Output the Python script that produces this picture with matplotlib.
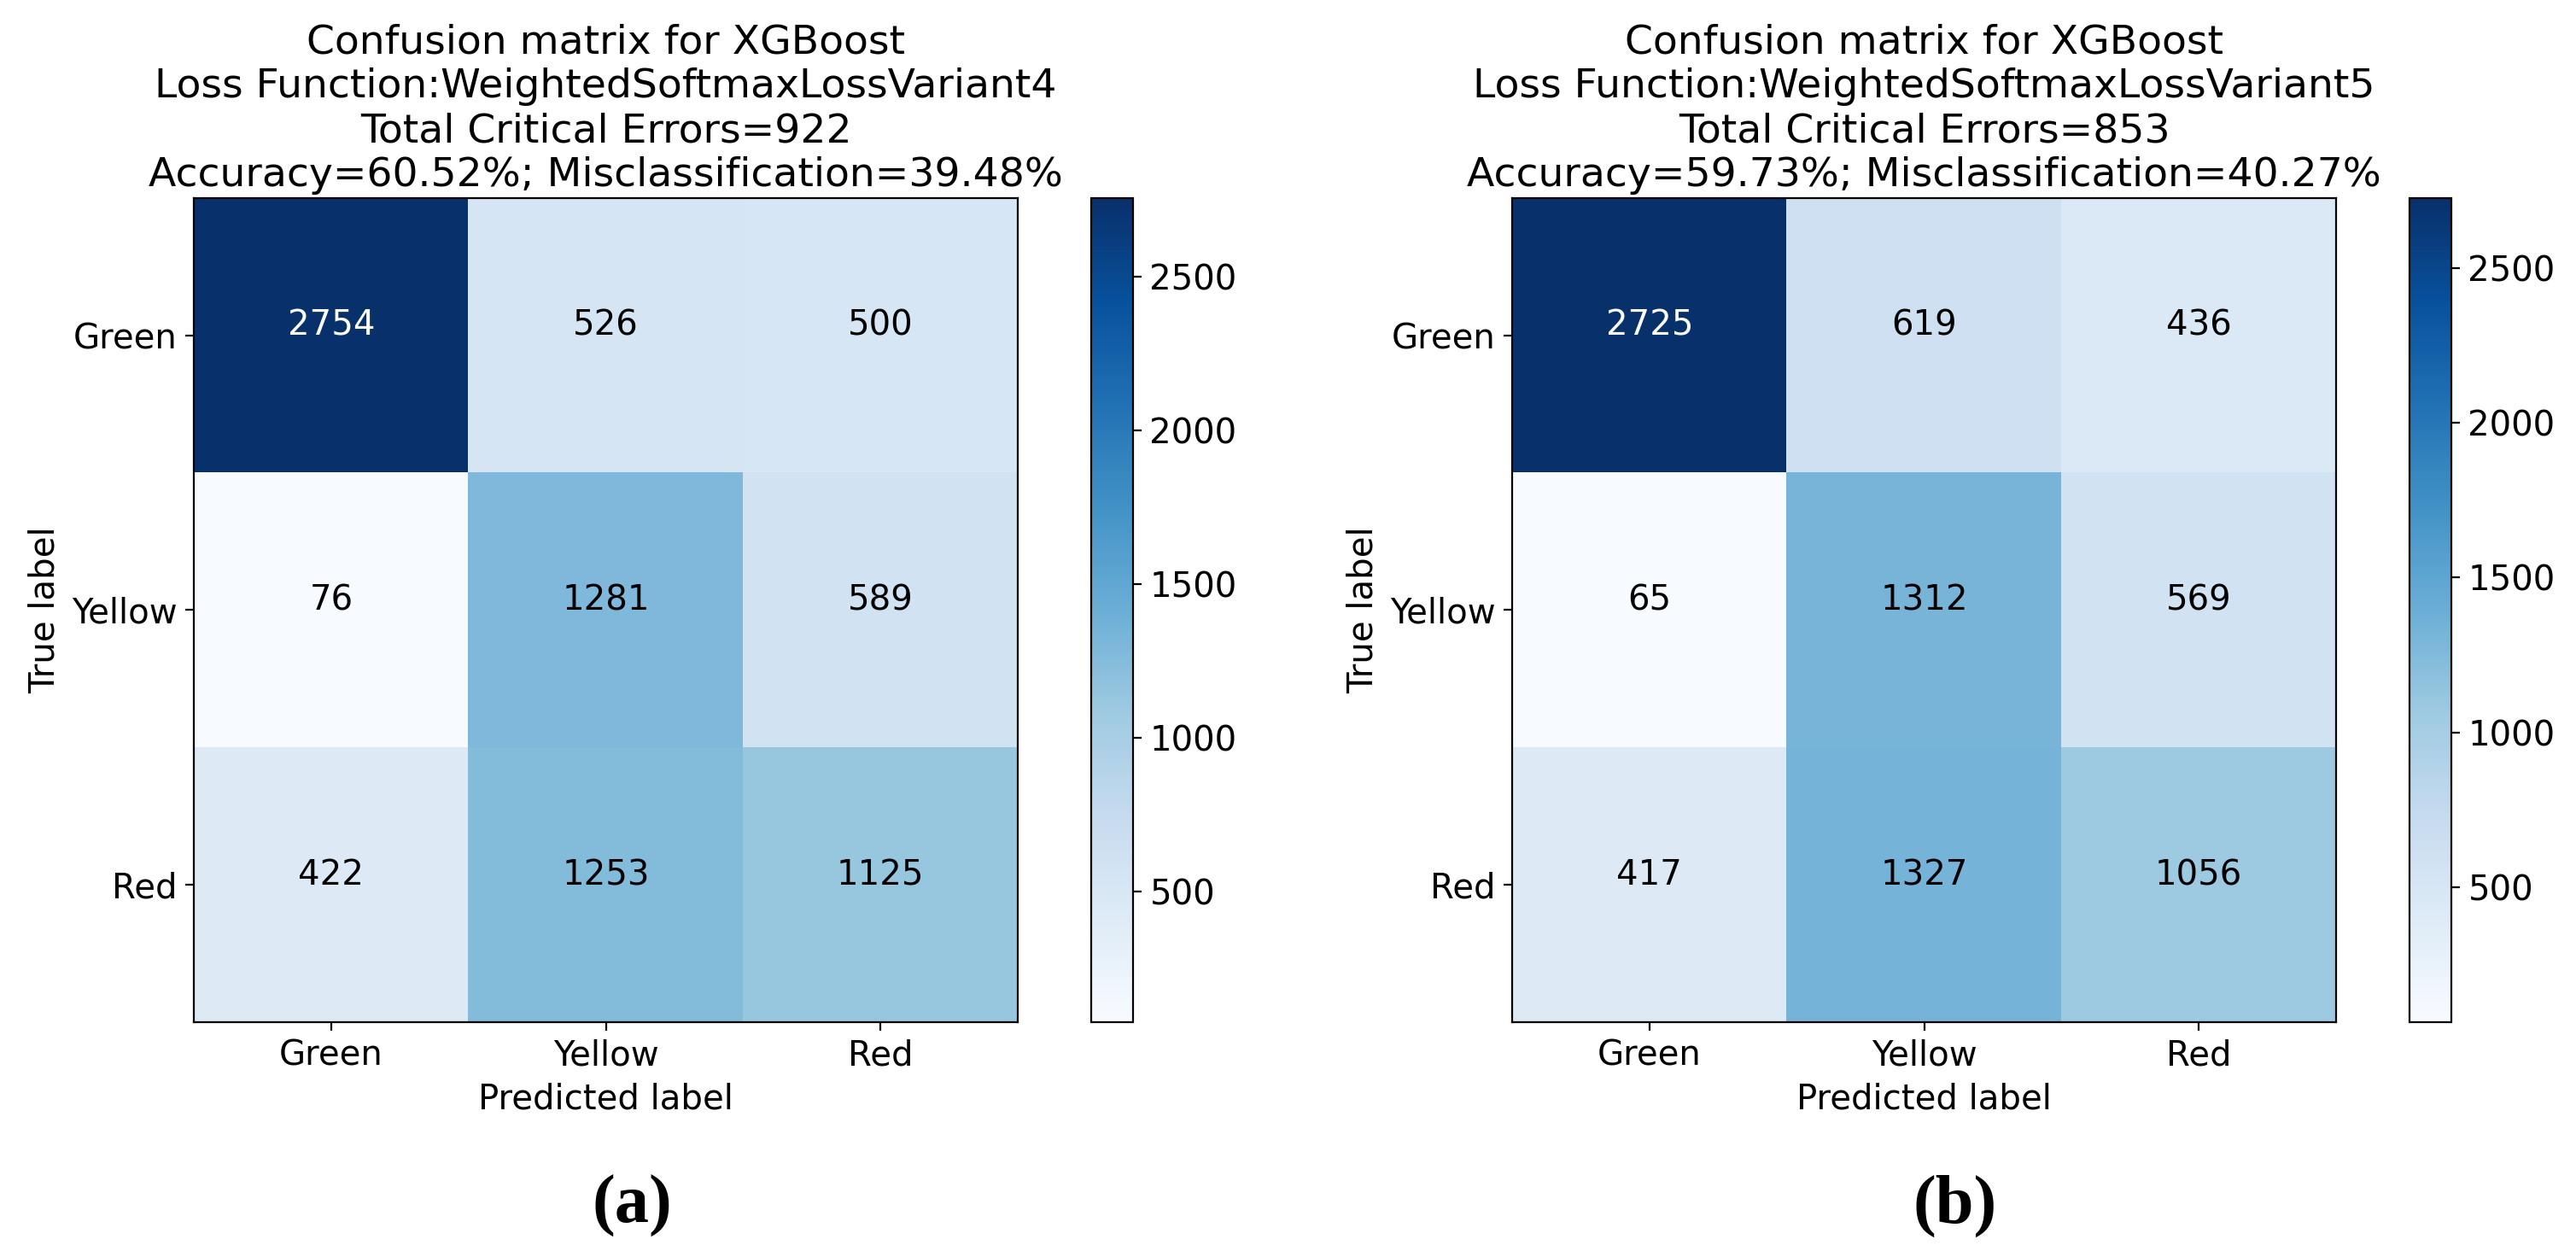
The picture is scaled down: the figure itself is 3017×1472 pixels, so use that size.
import matplotlib.pyplot as plt
import numpy as np

classes = ["Green", "Yellow", "Red"]

cm_variant4 = [[2754, 526, 500],
               [76, 1281, 589],
               [422, 1253, 1125]]
cm_variant5 = [[2725, 619, 436],
               [65, 1312, 569],
               [417, 1327, 1056]]

loss_names = ["WeightedSoftmaxLossVariant4", "WeightedSoftmaxLossVariant5"]
critical_errors = [922, 853]
accuracies = [60.52, 59.73]
misclassifications = [39.48, 40.27]
captions = ["(a)", "(b)"]

W, H = 3017, 1472
DPI = 200
FS = 14.5


def rect(x0, y0, x1, y1):
    return [x0 / W, 1 - y1 / H, (x1 - x0) / W, (y1 - y0) / H]


def draw_cm(fig, ax_rect, cb_rect, cm, loss, crit, acc, mis):
    cm = np.array(cm)
    ax = fig.add_axes(ax_rect)
    cax = fig.add_axes(cb_rect)
    im = ax.imshow(cm, interpolation="nearest", cmap=plt.cm.Blues, aspect="auto")
    cb = fig.colorbar(im, cax=cax)
    cb.ax.tick_params(labelsize=FS)
    ax.set_title("Confusion matrix for XGBoost\n"
                 f"Loss Function:{loss}\n"
                 f"Total Critical Errors={crit}\n"
                 f"Accuracy={acc:.2f}%; Misclassification={mis:.2f}%",
                 fontsize=17, pad=5)
    ticks = np.arange(len(classes))
    ax.set_xticks(ticks)
    ax.set_xticklabels(classes, fontsize=FS)
    ax.set_yticks(ticks)
    ax.set_yticklabels(classes, fontsize=FS)
    thresh = cm.max() / 2.
    for i in range(cm.shape[0]):
        for j in range(cm.shape[1]):
            ax.text(j, i, format(cm[i, j], "d"),
                    horizontalalignment="center", fontsize=FS,
                    color="white" if cm[i, j] > thresh else "black")
    ax.set_ylabel("True label", fontsize=FS)
    ax.set_xlabel("Predicted label", fontsize=FS)
    return ax


def main():
    fig = plt.figure(figsize=(W / DPI, H / DPI), dpi=DPI)

    draw_cm(fig, rect(227, 232, 1192, 1197), rect(1278, 232, 1327, 1197),
            cm_variant4, loss_names[0], critical_errors[0],
            accuracies[0], misclassifications[0])
    draw_cm(fig, rect(1771, 232, 2736, 1197), rect(2822, 232, 2871, 1197),
            cm_variant5, loss_names[1], critical_errors[1],
            accuracies[1], misclassifications[1])

    # sub-figure captions
    for cx, cap in zip([740, 2290], captions):
        fig.text(cx / W, 1 - 1412 / H, cap, ha="center", va="center",
                 fontsize=29, fontweight="bold", family="Liberation Serif")

    fig.savefig("out.png", dpi=DPI, facecolor="white")


if __name__ == "__main__":
    main()
